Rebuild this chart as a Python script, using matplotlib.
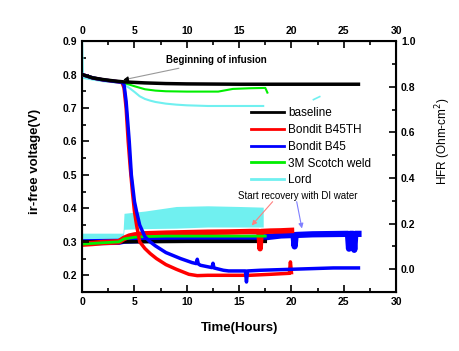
import matplotlib
matplotlib.use("Agg")
import matplotlib.pyplot as plt
from matplotlib.ticker import MultipleLocator

plt.rcParams['font.family'] = ['Liberation Sans', 'DejaVu Sans']

# ir-free voltage (left axis)
t_base = [0, 0.5, 1, 2, 3, 4, 6, 8, 10, 15, 20, 26.4]
v_base = [0.800, 0.795, 0.790, 0.785, 0.781, 0.778, 0.775, 0.773, 0.772, 0.771, 0.771, 0.771]

t_b45th = [0, 1, 2, 3, 3.8, 4.0, 4.2, 4.4, 4.6, 4.8, 5.0, 5.2, 5.5, 6.0, 6.5, 7.1, 8, 9,
           10.2, 11, 12, 14, 16, 18, 19.8, 19.9, 20.0]
v_b45th = [0.800, 0.790, 0.784, 0.780, 0.777, 0.760, 0.700, 0.600, 0.520, 0.450, 0.390, 0.350,
           0.300, 0.280, 0.265, 0.250, 0.232, 0.218, 0.203, 0.199, 0.200, 0.200, 0.200, 0.203,
           0.206, 0.240, 0.208]

t_b45 = [0, 1, 2, 3, 3.8, 4.0, 4.2, 4.5, 4.7, 5.0, 5.2, 5.5, 6.0, 6.5, 7, 8, 9.4, 10.5, 10.9,
         11.0, 11.1, 11.3, 12.4, 12.5, 12.6, 13.5, 14, 15.6, 15.7, 15.8, 17, 20, 22, 24, 26.4]
v_b45 = [0.800, 0.790, 0.784, 0.780, 0.777, 0.770, 0.720, 0.600, 0.500, 0.420, 0.390, 0.350,
         0.315, 0.300, 0.288, 0.268, 0.250, 0.238, 0.235, 0.248, 0.234, 0.230, 0.223, 0.236,
         0.222, 0.215, 0.213, 0.213, 0.180, 0.213, 0.215, 0.218, 0.220, 0.222, 0.222]

t_scotch = [0, 1, 2, 3, 3.7, 4.5, 5, 6, 7, 8, 10, 12, 13, 14.4, 16, 17.5, 17.6, 17.7]
v_scotch = [0.800, 0.792, 0.785, 0.780, 0.777, 0.770, 0.765, 0.756, 0.752, 0.750, 0.749, 0.749,
            0.749, 0.757, 0.759, 0.760, 0.753, 0.746]

t_lord = [0, 0.05, 0.1, 1, 2, 3, 3.8, 4.5, 5, 5.5, 6, 6.5, 7, 8, 9, 10, 12, 14, 16, 17.3]
v_lord = [0.900, 0.820, 0.790, 0.785, 0.780, 0.777, 0.774, 0.760, 0.748, 0.735, 0.727, 0.722,
          0.718, 0.713, 0.710, 0.708, 0.706, 0.706, 0.706, 0.706]
t_lord2 = [22.1, 22.7]
v_lord2 = [0.725, 0.734]

# HFR (right axis)
t_base_hfr = [0, 4, 10, 17.5]
h_base_hfr = [0.120, 0.120, 0.122, 0.122]

t_b45th_hfr = [0, 1, 2, 3.5, 4, 4.5, 5, 6, 8, 10, 12, 14, 16, 16.9, 17.0, 17.1, 18, 19, 20]
h_b45th_hfr = [0.110, 0.113, 0.117, 0.120, 0.135, 0.145, 0.150, 0.155, 0.158, 0.160, 0.162,
               0.163, 0.165, 0.165, 0.090, 0.165, 0.167, 0.168, 0.170]

t_b45_hfr = [0, 3.5, 4, 6, 10, 14, 17, 17.5, 19, 20.2, 20.3, 20.4, 22, 25.4, 25.5, 25.6, 25.9,
             26.0, 26.1, 26.4]
h_b45_hfr = [0.118, 0.120, 0.125, 0.128, 0.132, 0.135, 0.138, 0.140, 0.148, 0.150, 0.100,
             0.150, 0.153, 0.155, 0.090, 0.155, 0.155, 0.085, 0.155, 0.155]

t_scotch_hfr = [0, 1, 2, 3.5, 4, 5, 6, 8, 12, 17.5]
h_scotch_hfr = [0.110, 0.113, 0.116, 0.120, 0.133, 0.140, 0.143, 0.145, 0.145, 0.145]

t_lord_hfr = [0, 3.9, 4.0, 6, 9, 12, 15, 17.3]
h_lord_lo = [0.127, 0.127, 0.175, 0.178, 0.180, 0.185, 0.185, 0.185]
h_lord_hi = [0.158, 0.158, 0.245, 0.255, 0.275, 0.278, 0.275, 0.272]

labels = ['baseline', 'Bondit B45TH', 'Bondit B45', '3M Scotch weld', 'Lord']
colors = ['black', '#ff0000', '#0000ff', '#00ee00', '#70f0f0']

fig = plt.figure(figsize=(4.59, 3.51), dpi=100)
ax = fig.add_axes([0.179, 0.168, 0.684, 0.715])
ax2 = ax.twinx()

ax.plot(t_base, v_base, color=colors[0], lw=2.5, label=labels[0], zorder=5)
ax.plot(t_b45th, v_b45th, color=colors[1], lw=2.5, label=labels[1], zorder=3)
ax.plot(t_b45, v_b45, color=colors[2], lw=2.5, label=labels[2], zorder=4)
ax.plot(t_scotch, v_scotch, color=colors[3], lw=1.5, label=labels[3], zorder=3)
ax.plot(t_lord, v_lord, color=colors[4], lw=1.5, label=labels[4], zorder=2)
ax.plot(t_lord2, v_lord2, color=colors[4], lw=1.2, zorder=2)

ax2.fill_between(t_lord_hfr, h_lord_lo, h_lord_hi, color=colors[4], lw=0, zorder=1)
ax2.plot(t_b45_hfr, h_b45_hfr, color=colors[2], lw=4.5, zorder=2)
ax2.plot(t_b45th_hfr, h_b45th_hfr, color=colors[1], lw=4, zorder=3)
ax2.plot(t_base_hfr, h_base_hfr, color=colors[0], lw=2.5, zorder=2)
ax2.plot(t_scotch_hfr, h_scotch_hfr, color=colors[3], lw=2, zorder=4)

ax.set_xlim(0, 30)
ax.set_ylim(0.15, 0.9)
ax2.set_ylim(-0.1, 1.0)

ax.xaxis.set_major_locator(MultipleLocator(5))
ax.xaxis.set_minor_locator(MultipleLocator(2.5))
ax.yaxis.set_major_locator(MultipleLocator(0.1))
ax.yaxis.set_minor_locator(MultipleLocator(0.05))
ax2.yaxis.set_major_locator(MultipleLocator(0.2))
ax2.yaxis.set_minor_locator(MultipleLocator(0.1))

ax.tick_params(which='both', direction='in', top=True, labeltop=True, width=1.2)
ax.tick_params(which='major', length=5, labelsize=7.5)
ax.tick_params(which='minor', length=3)
ax2.tick_params(which='both', direction='in', width=1.2)
ax2.tick_params(which='major', length=5, labelsize=7.5)
ax2.tick_params(which='minor', length=3)
for lab in ax.get_xticklabels() + ax.get_yticklabels() + ax2.get_yticklabels():
    lab.set_fontweight('bold')
for sp in ax.spines.values():
    sp.set_linewidth(1.5)

ax.set_xlabel('Time(Hours)', fontsize=9.5, fontweight='bold')
ax.set_ylabel('ir-free voltage(V)', fontsize=9.5, fontweight='bold')
ax2.set_ylabel('HFR (Ohm-cm$^2$)', fontsize=8.5)
ax.xaxis.set_label_coords(0.5, -0.12)
ax.yaxis.set_label_coords(-0.13, 0.52)
ax2.yaxis.set_label_coords(1.118, 0.6)

ax.annotate('Beginning of infusion', xy=(3.92, 0.784), xytext=(12.8, 0.842),
            fontsize=7, fontweight='bold', ha='center', va='center',
            arrowprops=dict(arrowstyle='-|>', color='#999999', lw=0.8,
                            shrinkA=0, shrinkB=0, mutation_scale=7))
ax.annotate('', xy=(3.92, 0.784), xytext=(4.3, 0.786),
            arrowprops=dict(arrowstyle='-|>', color='black', lw=0.8,
                            shrinkA=0, shrinkB=0, mutation_scale=7))
ax.text(20.6, 0.438, 'Start recovery with DI water', fontsize=7, ha='center', va='center')
ax.annotate('', xy=(16.2, 0.349), xytext=(18.2, 0.42),
            arrowprops=dict(arrowstyle='-|>', color='#ff8080', lw=0.8,
                            shrinkA=0, shrinkB=0, mutation_scale=7), zorder=10)
ax.annotate('', xy=(21.0, 0.34), xytext=(20.5, 0.42),
            arrowprops=dict(arrowstyle='-|>', color='#8080ff', lw=0.8,
                            shrinkA=0, shrinkB=0, mutation_scale=7), zorder=10)

ax.set_zorder(ax2.get_zorder() + 1)
ax.patch.set_visible(False)

leg = ax.legend(loc='upper left', bbox_to_anchor=(0.505, 0.778), frameon=False, fontsize=8.5,
                handlelength=2.8, handletextpad=0.3, labelspacing=0.4)
for ln in leg.get_lines():
    ln.set_linewidth(2)

fig.savefig('out.png', dpi=100)
